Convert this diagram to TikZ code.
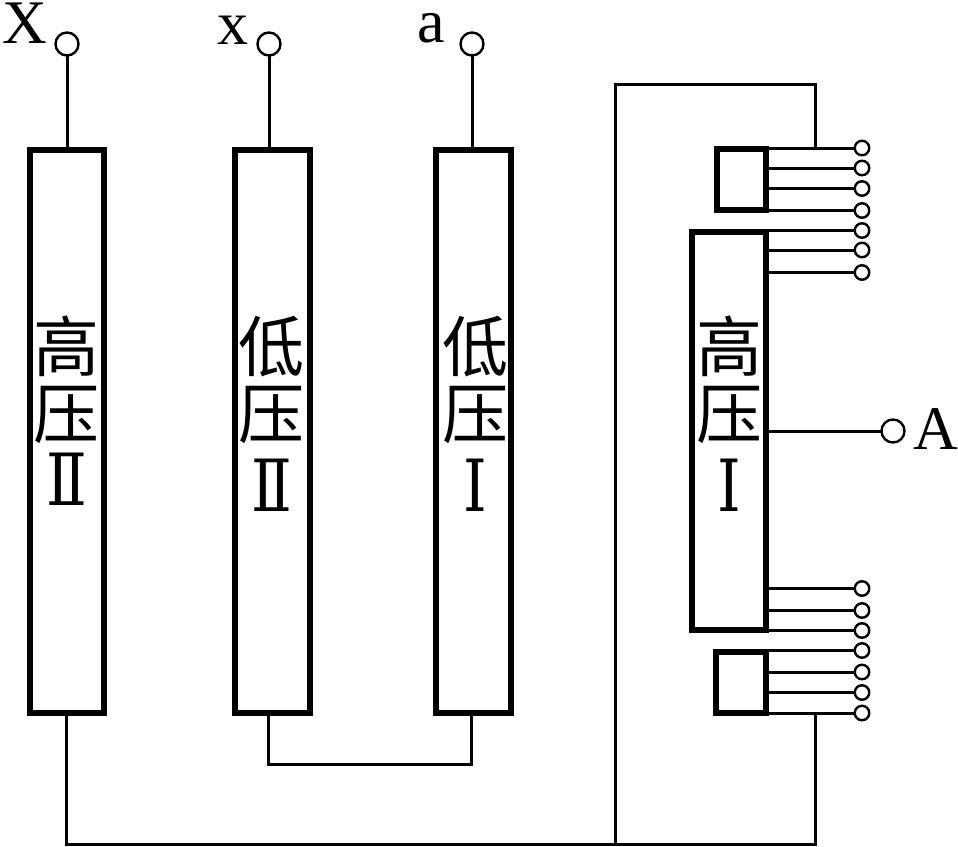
\documentclass[tikz,border=0pt]{standalone}
\usepackage{graphicx}
\usepackage{fontspec}
\setmainfont{Liberation Serif}
\newfontfamily\cjk{Noto Sans CJK SC}
\newfontfamily\romn{DejaVu Serif}
\newcommand{\coilfont}{\cjk\fontsize{66}{67}\selectfont}
\newcommand{\romnum}[1]{\scalebox{1}[1.2]{\romn\fontsize{60}{60}\selectfont #1}}
\tikzset{
  x=1pt,y=-1pt,
  coil/.style={draw,line width=6pt,outer sep=0pt,fill=white,inner sep=0pt,minimum width=#1,anchor=north west},
  wire/.style={line width=3pt},
  bigterm/.style={draw,circle,line width=2.4pt,outer sep=0pt,fill=white,minimum size=23pt,inner sep=0pt},
  smallterm/.style={draw,circle,line width=2.4pt,outer sep=0pt,fill=white,minimum size=14.5pt,inner sep=0pt},
  lab/.style={font=\fontsize{62}{62}\selectfont,inner sep=0pt},
  coiltext/.style={font=\coilfont,align=center,inner sep=0pt,anchor=north}
}
\begin{document}
\begin{tikzpicture}
\useasboundingbox (0,0) rectangle (958,846);
% coil bodies
\node[coil=74pt,minimum height=563pt] (hv2) at (30,150) {};
\node[coil=75pt,minimum height=563pt] (lv2) at (235,150) {};
\node[coil=75pt,minimum height=563pt] (lv1) at (436,150) {};
\node[coil=74pt,minimum height=398pt] (hv1) at (692,232) {};
\node[coil=48.5pt,minimum height=61pt] (tapA) at (717,149) {};
\node[coil=50pt,minimum height=61pt] (tapB) at (716,652) {};
% terminals
\node[bigterm] (tX) at (67,44) {};
\node[bigterm] (tx) at (269,44) {};
\node[bigterm] (ta) at (472,44) {};
\node[bigterm] (tA) at (893,431) {};
\foreach \n/\yy in {a1/148,a2/168,a3/188.5,a4/210.5,a5/230.5,a6/250,a7/272.5,
                    b1/588.5,b2/610.5,b3/630.5,b4/650.5,b5/672,b6/692.5,b7/713}
  \node[smallterm] (\n) at (862,\yy) {};
% junction coordinates
\coordinate (frameTR) at (815.5,84.5);
\coordinate (frameTL) at (615.5,84.5);
\coordinate (frameBL) at (615.5,844);
\coordinate (frameBR) at (815.5,844);
\coordinate (frameB0) at (66,844);
\coordinate (linkL) at (268.5,764);
\coordinate (linkR) at (471.5,764);
% connectors
\draw[wire] (tX) -- (tX |- hv2.north);
\draw[wire] (tx) -- (tx |- lv2.north);
\draw[wire] (ta) -- (ta |- lv1.north);
\draw[wire] (tA) -- (tA -| hv1.east);
\foreach \n/\b in {a1/tapA,a2/tapA,a3/tapA,a4/tapA,a5/hv1,a6/hv1,a7/hv1,
                   b1/hv1,b2/hv1,b3/hv1,b4/tapB,b5/tapB,b6/tapB,b7/tapB}
  \draw[wire] (\n) -- (\n -| \b.east);
\draw[wire] (frameTR |- a1) -- (frameTR) -- (frameTL) -- (frameBL);
\draw[wire] (frameBR |- b7) -- (frameBR) -- (frameB0) -- (frameB0 |- hv2.south);
\draw[wire] (linkL |- lv2.south) -- (linkL) -- (linkR) -- (linkR |- lv1.south);
% labels
\node[lab] (lX) at (25,23) {X};
\node[lab] (lx) at (233,30) {x};
\node[lab] (la) at (431,28) {a};
\node[lab] (lA) at (936,429) {A};
\node[coiltext] (thv2) at (66.5,316) {高\\压\\[0pt]\romnum{Ⅱ}};
\node[coiltext] (tlv2) at (271.5,316) {低\\压\\[6pt]\romnum{Ⅱ}};
\node[coiltext] (tlv1) at (475,316) {低\\压\\[6pt]\romnum{Ⅰ}};
\node[coiltext] (thv1) at (729,316) {高\\压\\[6pt]\romnum{Ⅰ}};
\end{tikzpicture}
\end{document}
